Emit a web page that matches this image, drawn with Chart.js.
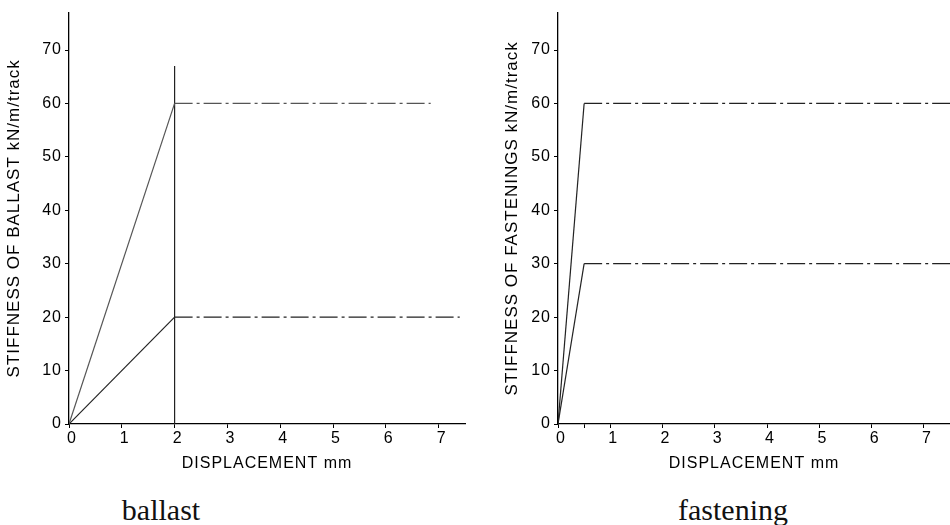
<!DOCTYPE html>
<html>
<head>
<meta charset="utf-8">
<script src="https://cdn.jsdelivr.net/npm/chart.js@4"></script>
<style>
  body { margin: 0; background: #fff; width: 950px; height: 525px; overflow: hidden; position: relative; }
  canvas { position: absolute; top: 0; }
  #ballast-chart { left: 0; }
  #fastening-chart { left: 480px; }
  .caption { position: absolute; top: 495px; transform: translateX(-50%); font-family: "Liberation Serif", "Times New Roman", serif; font-size: 30px; line-height: 30px; color: #111; }
</style>
</head>
<body>
<canvas id="ballast-chart" width="480" height="480"></canvas>
<canvas id="fastening-chart" width="470" height="480"></canvas>
<div class="caption" style="left:161px">ballast</div>
<div class="caption" style="left:733px">fastening</div>
<script>
// displacement (mm) / stiffness (kN/m/track)
const ballastLoadedX = [0, 2, 6.85];
const ballastLoadedY = [0, 60, 60];
const ballastUnloadedX = [0, 2, 7.4];
const ballastUnloadedY = [0, 20, 20];
const ballastLimitX = [2, 2];
const ballastLimitY = [0, 67];

const fasteningLoadedX = [0, 0.5, 7.5];
const fasteningLoadedY = [0, 60, 60];
const fasteningUnloadedX = [0, 0.5, 7.5];
const fasteningUnloadedY = [0, 30, 30];

const ballastXTicks = [0, 1, 2, 3, 4, 5, 6, 7];
const fasteningXTicks = [0, 0.5, 1, 2, 3, 4, 5, 6, 7];
const yTicks = [0, 10, 20, 30, 40, 50, 60, 70];

const xTitle = 'DISPLACEMENT mm';
const ballastYTitle = 'STIFFNESS OF BALLAST kN/m/track';
const fasteningYTitle = 'STIFFNESS OF FASTENINGS kN/m/track';

const dashDot = [18, 4, 3, 4];
const ink = '#000';

Chart.defaults.font.family = '"Liberation Sans", Arial, sans-serif';
Chart.defaults.font.size = 16;
Chart.defaults.color = ink;

// the scanned lettering is a bit wider than Arial
const spacedText = {
  id: 'spacedText',
  beforeDraw(chart) { chart.ctx.letterSpacing = '1px'; }
};

function toPoints(xs, ys) {
  return xs.map((x, i) => ({ x: x, y: ys[i] }));
}

function curve(xs, ys, color) {
  return {
    data: toPoints(xs, ys),
    showLine: true,
    borderColor: color,
    borderWidth: 1.2,
    pointRadius: 0,
    fill: false,
    segment: {
      borderDash: ctx => ctx.p0DataIndex >= 1 ? dashDot : undefined
    }
  };
}

function makeChart(canvasId, datasets, xTicks, yTitle, yWidth, yTitlePad, padRight) {
  return new Chart(document.getElementById(canvasId), {
    type: 'scatter',
    data: { datasets: datasets },
    plugins: [spacedText],
    options: {
      responsive: false,
      animation: false,
      layout: { padding: { top: 10, right: padRight, left: 0, bottom: 0 } },
      plugins: { legend: { display: false }, tooltip: { enabled: false } },
      scales: {
        x: {
          type: 'linear',
          min: 0,
          max: 7.5,
          afterBuildTicks: scale => { scale.ticks = xTicks.map(v => ({ value: v })); },
          afterFit: scale => { scale.height = 56; },
          ticks: {
            padding: 1,
            labelOffset: 3,
            callback: v => Number.isInteger(v) ? String(v) : ''
          },
          grid: { drawOnChartArea: false, drawTicks: true, tickLength: 4, color: ink },
          border: { display: true, color: ink, width: 1.3 },
          title: { display: true, text: xTitle, padding: { top: 0, bottom: 7 } }
        },
        y: {
          min: 0,
          max: 77,
          afterBuildTicks: scale => { scale.ticks = yTicks.map(v => ({ value: v })); },
          afterFit: scale => { scale.width = yWidth; },
          ticks: { padding: 3 },
          grid: { drawOnChartArea: false, drawTicks: true, tickLength: 4, color: ink },
          border: { display: true, color: ink, width: 1.3 },
          title: { display: true, text: yTitle, font: { size: 17 }, padding: { top: yTitlePad, bottom: 0 } }
        }
      }
    }
  });
}

makeChart('ballast-chart', [
  curve(ballastLoadedX, ballastLoadedY, '#555'),
  curve(ballastUnloadedX, ballastUnloadedY, '#222'),
  { data: toPoints(ballastLimitX, ballastLimitY), showLine: true, borderColor: '#222', borderWidth: 1.2, pointRadius: 0 }
], ballastXTicks, ballastYTitle, 69, 4, 15);

makeChart('fastening-chart', [
  curve(fasteningLoadedX, fasteningLoadedY, '#222'),
  curve(fasteningUnloadedX, fasteningUnloadedY, '#222')
], fasteningXTicks, fasteningYTitle, 78, 22, 0);
</script>
</body>
</html>
